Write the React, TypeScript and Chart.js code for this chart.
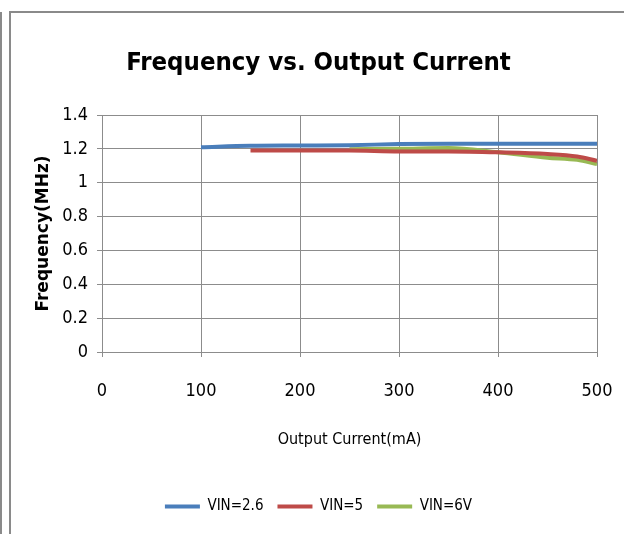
import React, { useEffect, useRef } from "react";
import { Chart, registerables } from "chart.js";

Chart.register(...registerables);

const chartTitle = "Frequency vs. Output Current";
const xAxisTitle = "Output Current(mA)";
const yAxisTitle = "Frequency(MHz)";
const seriesNames = ["VIN=2.6", "VIN=5", "VIN=6V"];
const seriesColors = ["#4a7ebb", "#be4b48", "#98b954"];

const blueX = [100, 150, 200, 250, 300, 350, 400, 450, 500];
const blueY = [1.21, 1.218, 1.22, 1.222, 1.228, 1.23, 1.23, 1.23, 1.23];
const redX = [150, 200, 250, 300, 350, 400, 450, 480, 500];
const redY = [1.19, 1.19, 1.19, 1.185, 1.185, 1.18, 1.17, 1.155, 1.13];
const greenX = [250, 300, 350, 400, 450, 480, 500];
const greenY = [1.198, 1.2, 1.205, 1.18, 1.148, 1.135, 1.11];

const xTickLabels = ["0", "100", "200", "300", "400", "500"];
const yTickLabels = ["0", "0.2", "0.4", "0.6", "0.8", "1", "1.2", "1.4"];

const NARROW = "'Liberation Sans Narrow', 'DejaVu Sans Condensed', sans-serif";
const GRID = "#8c8c8c";

function pts(xs: number[], ys: number[]) {
  return xs.map((x, i) => ({ x, y: ys[i] }));
}

const boxShift = {
  id: "boxShift",
  afterUpdate(chart: any) {
    if (chart.legend) chart.legend.left += 40;
    if (chart.titleBlock) chart.titleBlock.left += 40;
  },
};

export default function App() {
  const ref = useRef<HTMLCanvasElement | null>(null);
  useEffect(() => {
    document.body.style.margin = "0";
    if (!ref.current) return;
    const series = [pts(blueX, blueY), pts(redX, redY), pts(greenX, greenY)];
    const chart = new Chart(ref.current, {
      type: "line",
      data: {
        datasets: series.map((d, i) => ({
          label: seriesNames[i],
          data: d,
          borderColor: seriesColors[i],
          backgroundColor: seriesColors[i],
          borderWidth: 4,
          pointRadius: 0,
          cubicInterpolationMode: "monotone" as const,
          fill: false,
        })),
      },
      plugins: [boxShift],
      options: {
        animation: false,
        responsive: false,
        layout: { padding: { top: 0, left: 0, right: 27, bottom: 10 } },
        plugins: {
          title: {
            display: true,
            text: chartTitle,
            color: "#000",
            font: { family: NARROW, size: 25.5, weight: "bold" },
            padding: { top: 48, bottom: 36.4 },
          },
          legend: {
            position: "bottom",
            labels: {
              color: "#000",
              font: { family: NARROW, size: 15 },
              boxWidth: 35,
              boxHeight: 4,
              padding: 14,
              generateLabels: (c: any) => {
                const base = Chart.defaults.plugins.legend.labels.generateLabels(c);
                return base.map((l: any) => ({ ...l, lineWidth: 0, fillStyle: l.strokeStyle }));
              },
            },
          },
          tooltip: { enabled: false },
        },
        scales: {
          x: {
            type: "linear",
            min: 0,
            max: 500,
            ticks: {
              stepSize: 100,
              color: "#000",
              font: { family: NARROW, size: 18 },
              padding: 24,
              callback: (_v: any, i: number) => xTickLabels[i],
            },
            grid: { color: GRID, tickLength: 5, lineWidth: 1 },
            border: { color: GRID },
            title: {
              display: true,
              text: xAxisTitle,
              color: "#000",
              font: { family: NARROW, size: 16 },
              padding: { top: 0, bottom: 36 },
            },
            afterFit: (s: any) => {
              s.height = 133;
              s.paddingLeft = 0;
              s.paddingRight = 0;
            },
          },
          y: {
            type: "linear",
            min: 0,
            max: 1.4,
            ticks: {
              stepSize: 0.2,
              color: "#000",
              font: { family: NARROW, size: 18 },
              padding: 9,
              callback: (_v: any, i: number) => yTickLabels[i],
            },
            grid: { color: GRID, tickLength: 5, lineWidth: 1 },
            border: { color: GRID },
            title: {
              display: true,
              text: yAxisTitle,
              color: "#000",
              font: { family: "'DejaVu Sans', sans-serif", size: 17, weight: "bold" },
              padding: { top: 33, bottom: 0 },
            },
            afterFit: (s: any) => {
              s.width = 102;
              s.paddingTop = 0;
              s.paddingBottom = 0;
            },
          },
        },
      },
    });
    return () => chart.destroy();
  }, []);
  return (
    <div style={{ position: "relative", width: 624, height: 534, background: "#fff", overflow: "hidden" }}>
      <div style={{ position: "absolute", left: 0, top: 12, width: 2, height: 522, background: "#8a8a8a" }} />
      <div
        style={{
          position: "absolute",
          left: 9,
          top: 11,
          right: 0,
          bottom: 0,
          borderTop: "2px solid #8a8a8a",
          borderLeft: "2px solid #8a8a8a",
        }}
      />
      <canvas ref={ref} width={624} height={534} style={{ position: "absolute", left: 0, top: 0 }} />
    </div>
  );
}
